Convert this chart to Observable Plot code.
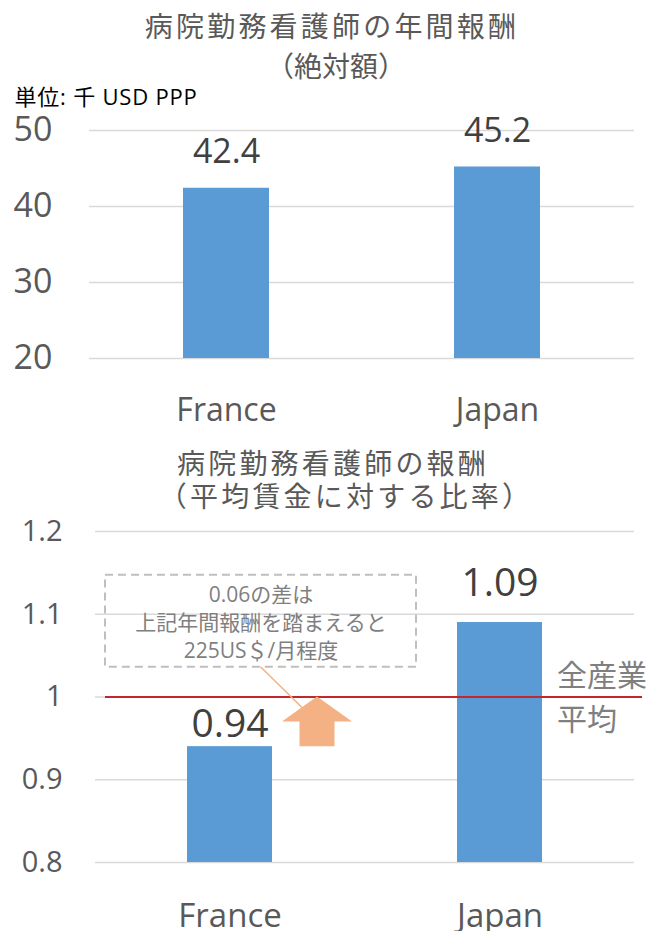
<!DOCTYPE html>
<html><head><meta charset="utf-8">
<script src="https://cdn.jsdelivr.net/npm/d3@7"></script>
<script src="https://cdn.jsdelivr.net/npm/@observablehq/plot@0.6"></script>
<style>
body{margin:0;background:#fff;}
#wrap{position:relative;width:659px;height:931px;overflow:hidden;background:#fff;}
#wrap svg{position:absolute;left:0;overflow:visible;}
</style></head><body><div id="wrap"></div>
<script>
// ---- data ----
const countries = ["France", "Japan"];
const annualPay = [42.4, 45.2];          // 千 USD PPP
const payRatio = [0.94, 1.09];           // ratio to all-industry average wage
const allIndustryAvg = 1;
const payTicks = [20, 30, 40, 50];
const ratioTicks = [0.8, 0.9, 1.0, 1.1, 1.2];
const title1 = ["病院勤務看護師の年間報酬", "（絶対額）"];
const unitLabel = "単位: 千 USD PPP";
const title2 = ["病院勤務看護師の報酬", "（平均賃金に対する比率）"];
const noteLines = ["0.06の差は", "上記年間報酬を踏まえると", "225US＄/月程度"];
const noteRange = [1.036, 1.147];
const avgLabel = ["全産業", "平均"];

const LATIN = '"Open Sans","Noto Sans CJK JP",sans-serif';
const CJK = '"Noto Sans CJK JP",sans-serif';
const BAR = "#5B9BD5", GRID = "#d9d9d9", TICK = "#595959", VAL = "#404040", NOTE = "#7f7f7f";

const payData = countries.map((c, i) => ({country: c, value: annualPay[i]}));
const ratioData = countries.map((c, i) => ({country: c, value: payRatio[i]}));

// letter spacing for the title texts (style only)
const spacedTexts = [title1[0], title2[0], title2[1]];
const spacedUnit = [unitLabel];
function applySpacing(svg) {
  d3.select(svg).selectAll("text").each(function () {
    const t = this.textContent;
    if (spacedTexts.includes(t)) this.style.letterSpacing = "3.2px";
    else if (spacedUnit.includes(t)) this.style.letterSpacing = "0.8px";
  });
}

const wrap = document.getElementById("wrap");

// ---- top chart ----
const topChart = Plot.plot({
  width: 659, height: 440,
  marginTop: 130, marginBottom: 82, marginLeft: 89, marginRight: 25,
  style: {fontFamily: LATIN, background: "transparent", overflow: "visible"},
  x: {domain: countries, paddingInner: 0.684, paddingOuter: 0.344},
  y: {domain: [payTicks[0], payTicks[payTicks.length - 1]]},
  marks: [
    Plot.gridY(payTicks, {stroke: GRID, strokeOpacity: 1, strokeWidth: 1.5}),
    Plot.axisY(payTicks, {tickSize: 0, tickPadding: 37, fontSize: 34, fill: TICK, tickFormat: d => String(d), label: null}),
    Plot.axisX({tickSize: 0, tickPadding: 40, fontSize: 32, fill: TICK, label: null}),
    Plot.barY(payData, {x: "country", y1: payTicks[0], y2: "value", fill: BAR}),
    Plot.text(payData, {x: "country", y: "value", text: d => d.value.toFixed(1), dy: -36, fontSize: 34, fill: VAL}),
    Plot.text([title1[0]], {frameAnchor: "top", lineAnchor: "middle", text: d => d, dx: -30, dy: -102, fontSize: 28, fill: TICK, fontFamily: CJK}),
    Plot.text([title1[1]], {frameAnchor: "top", lineAnchor: "middle", text: d => d, dx: -26, dy: -62, fontSize: 28, fill: TICK, fontFamily: CJK}),
    Plot.text([unitLabel], {frameAnchor: "top-left", lineAnchor: "middle", text: d => d, textAnchor: "start", dx: -75, dy: -33, fontSize: 22, fill: "#000", fontFamily: LATIN})
  ]
});
applySpacing(topChart);
topChart.style.top = "0px";
wrap.appendChild(topChart);

// ---- bottom chart ----
function gapArrow(index, scales, values, dimensions, context) {
  const x = scales.x, y = scales.y;
  const bw = typeof x.bandwidth === "function" ? x.bandwidth() : x.bandwidth;
  const xf = x(countries[0]);
  const xc = xf + bw + 45;
  const yTip = y(allIndustryAvg), yBase = y(payRatio[0]);
  const headH = 25, headW = 35, shaftW = 17.5;
  const g = d3.create("svg:g");
  const boxCx = xf + bw / 2 + 31;
  g.append("line")
    .attr("x1", boxCx).attr("y1", y(noteRange[0]))
    .attr("x2", xc - 15).attr("y2", yTip + 11)
    .attr("stroke", "#F4B183").attr("stroke-width", 1.5);
  g.append("path")
    .attr("d", `M${xc},${yTip}L${xc + headW},${yTip + headH}L${xc + shaftW},${yTip + headH}L${xc + shaftW},${yBase}L${xc - shaftW},${yBase}L${xc - shaftW},${yTip + headH}L${xc - headW},${yTip + headH}Z`)
    .attr("fill", "#F4B183");
  return g.node();
}

const bottomChart = Plot.plot({
  width: 659, height: 491,
  marginTop: 91, marginBottom: 69, marginLeft: 95, marginRight: 25,
  style: {fontFamily: LATIN, background: "transparent", overflow: "visible"},
  x: {domain: countries, paddingInner: 0.685, paddingOuter: 0.34},
  y: {domain: [ratioTicks[0], ratioTicks[ratioTicks.length - 1]]},
  marks: [
    Plot.gridY(ratioTicks, {stroke: GRID, strokeOpacity: 1, strokeWidth: 1.5}),
    Plot.axisY(ratioTicks, {tickSize: 0, tickPadding: 33, fontSize: 29, fill: TICK, tickFormat: d => String(+d.toFixed(1)), label: null}),
    Plot.axisX({tickSize: 0, tickPadding: 41, fontSize: 33, fill: TICK, label: null}),
    Plot.barY(ratioData, {x: "country", y1: ratioTicks[0], y2: "value", fill: BAR}),
    Plot.ruleY([allIndustryAvg], {stroke: "#C0282D", strokeWidth: 2, insetLeft: 10, insetRight: -8}),
    Plot.text(ratioData.filter(d => d.country === "France"), {x: "country", y: "value", text: d => d.value.toFixed(2), dy: -22, fontSize: 39, fill: VAL}),
    Plot.text(ratioData.filter(d => d.country === "Japan"), {x: "country", y: "value", text: d => d.value.toFixed(2), dy: -39.5, fontSize: 39, fill: VAL}),
    Plot.barY([noteRange], {x: () => countries[0], y1: d => d[0], y2: d => d[1], fill: "none", stroke: "#bfbfbf", strokeWidth: 2, strokeDasharray: "8,5", insetLeft: -82, insetRight: -144}),
    Plot.text([noteLines.join("\n")], {x: () => countries[0], y: () => (noteRange[0] + noteRange[1]) / 2, text: d => d, dx: 31, fontSize: 21, lineHeight: 1.32, fill: NOTE, fontFamily: LATIN}),
    gapArrow,
    Plot.text([avgLabel.join("\n")], {x: () => countries[1], y: () => allIndustryAvg, text: d => d, textAnchor: "start", dx: 57, dy: -3, fontSize: 30, lineHeight: 1.45, fill: NOTE, fontFamily: CJK}),
    Plot.text([title2[0]], {frameAnchor: "top", lineAnchor: "middle", text: d => d, dx: -32, dy: -66, fontSize: 28, fill: TICK, fontFamily: CJK}),
    Plot.text([title2[1]], {frameAnchor: "top", lineAnchor: "middle", text: d => d, dx: -19, dy: -33, fontSize: 28, fill: TICK, fontFamily: CJK})
  ]
});
applySpacing(bottomChart);
bottomChart.style.top = "440px";
wrap.appendChild(bottomChart);
</script>
</body></html>
